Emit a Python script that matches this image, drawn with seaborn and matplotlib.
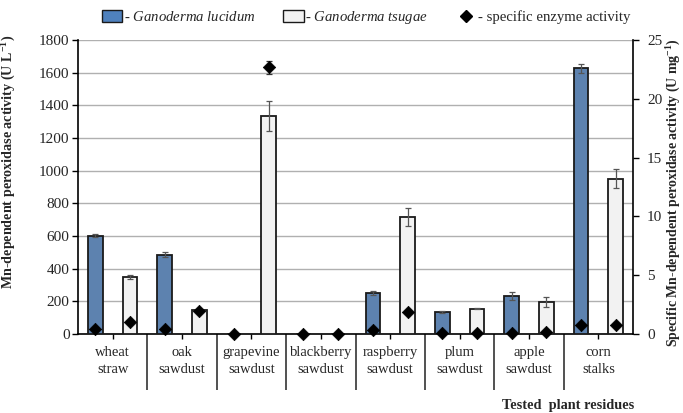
import numpy as np
import pandas as pd
import matplotlib
matplotlib.use("Agg")
import matplotlib.pyplot as plt
import matplotlib.patches as mp
from matplotlib.lines import Line2D
from matplotlib.ticker import FixedLocator
import seaborn as sns

# ------------------------------------------------------------------
# data
residues = ["wheat\nstraw", "oak\nsawdust", "grapevine\nsawdust", "blackberry\nsawdust",
            "raspberry\nsawdust", "plum\nsawdust", "apple\nsawdust", "corn\nstalks"]
species = ["Ganoderma lucidum", "Ganoderma tsugae"]

lucidum = [603, 485, 0, 0, 250, 135, 233, 1627]
lucidum_err = [8, 15, 0, 0, 12, 5, 22, 28]
tsugae = [347, 147, 1335, 0, 716, 155, 198, 951]
tsugae_err = [12, 5, 92, 0, 55, 4, 30, 57]

spec_lucidum = [0.43, 0.40, 0.0, 0.0, 0.34, 0.06, 0.10, 0.80]
spec_tsugae = [1.0, 1.95, 22.7, 0.0, 1.84, 0.05, 0.15, 0.74]
spec_tsugae_err = [0, 0, 0.55, 0, 0, 0, 0, 0]

blue = "#4F81BD"
white = "#F2F2F2"

# ------------------------------------------------------------------
sns.set_style("white")
plt.rcParams["font.family"] = ["Liberation Serif", "DejaVu Serif"]
plt.rcParams["mathtext.fontset"] = "custom"
plt.rcParams["mathtext.rm"] = "Liberation Serif"
plt.rcParams["mathtext.it"] = "Liberation Serif:italic"
plt.rcParams["mathtext.bf"] = "Liberation Serif:bold"

df = pd.DataFrame({
    "residue": residues * 2,
    "species": [species[0]] * 8 + [species[1]] * 8,
    "activity": lucidum + tsugae,
})

fig = plt.figure(figsize=(6.83, 4.13), dpi=100)
ax = fig.add_axes([0.1142, 0.1913, 0.8126, 0.7118])

sns.barplot(data=df, x="residue", y="activity", hue="species", order=residues,
            hue_order=species, palette=[blue, white], width=1.0, gap=0.58,
            errorbar=None, edgecolor="#1a1a1a", linewidth=1.3, legend=False,
            zorder=3, ax=ax)

idx = np.arange(len(residues))
ax.errorbar(idx - 0.25, lucidum, yerr=lucidum_err, fmt="none", ecolor="#555555",
            elinewidth=0.9, capsize=2, capthick=0.9, zorder=4)
ax.errorbar(idx + 0.25, tsugae, yerr=tsugae_err, fmt="none", ecolor="#555555",
            elinewidth=0.9, capsize=2, capthick=0.9, zorder=4)

ax.set_ylim(0, 1800)
ax.set_yticks(range(0, 1801, 200))
ax.yaxis.grid(True, color="#b0b0b0", linewidth=1.0)
ax.set_axisbelow(True)
ax.set_xlabel("")
ax.set_ylabel("Mn-dependent peroxidase activity (U L$^{\\mathbf{-1}}$)",
              fontsize=10.2, fontweight="bold")
ax.yaxis.set_label_coords(-0.108, 0.585)

for s in ["left", "bottom"]:
    ax.spines[s].set_color("black")
    ax.spines[s].set_linewidth(1.2)
ax.spines["top"].set_visible(False)
ax.spines["right"].set_visible(False)

# specific activity on the secondary axis
ax2 = ax.twinx()
sns.scatterplot(x=np.concatenate([idx - 0.25, idx + 0.25]),
                y=spec_lucidum + spec_tsugae, marker="D", color="black",
                s=40, edgecolor="black", linewidth=0.5, zorder=5, ax=ax2,
                clip_on=False)
ax2.errorbar(idx + 0.25, spec_tsugae, yerr=spec_tsugae_err, fmt="none",
             ecolor="#333333", elinewidth=0.9, capsize=2, capthick=0.9)
ax2.set_ylim(0, 25)
ax2.set_yticks(range(0, 26, 5))
ax2.tick_params(axis="y", right=True, direction="out", length=4, width=1,
                color="black", labelsize=11, pad=6)
ax2.set_ylabel("Specific Mn-dependent peroxidase activity (U mg$^{\\mathbf{-1}}$)",
               fontsize=10, fontweight="bold")
ax2.yaxis.set_label_coords(1.058, 0.48)
ax2.spines["right"].set_color("black")
ax2.spines["right"].set_linewidth(1.2)
for s in ["top", "left", "bottom"]:
    ax2.spines[s].set_visible(False)

# category labels on short ticks, long separators between categories
ax.set_xlim(-0.5, 7.5)
ax.set_xticks(idx)
ax.set_xticklabels(residues, fontsize=10.5, linespacing=1.35)
ax.xaxis.set_minor_locator(FixedLocator(idx[:-1] + 0.5))
ax.tick_params(axis="x", which="major", bottom=True, direction="out", length=3.5,
               width=1, color="black", pad=5.5)
ax.tick_params(axis="x", which="minor", bottom=True, direction="out", length=40,
               width=1.2, color="#333333")
ax.tick_params(axis="y", left=True, direction="out", length=4, width=1,
               color="black", labelsize=11, pad=2)

fig.text(0.928, 0.018, "Tested  plant residues", ha="right", va="center",
         fontsize=10.3, fontweight="bold")

handles = [
    mp.Patch(facecolor=blue, edgecolor="#1a1a1a", linewidth=1.0),
    mp.Patch(facecolor=white, edgecolor="#1a1a1a", linewidth=1.0),
    Line2D([], [], marker="D", color="black", linestyle="none", markersize=6.5),
]
labels = ["- $\\mathit{Ganoderma\\ lucidum}$", "- $\\mathit{Ganoderma\\ tsugae}$",
          "- specific enzyme activity"]
fig.legend(handles, labels, loc="center", bbox_to_anchor=(0.536, 0.957), ncol=3,
           frameon=False, fontsize=10.6, handlelength=1.4, handleheight=0.9,
           handletextpad=0.1, columnspacing=1.9)

fig.savefig("out.png", dpi=100)
